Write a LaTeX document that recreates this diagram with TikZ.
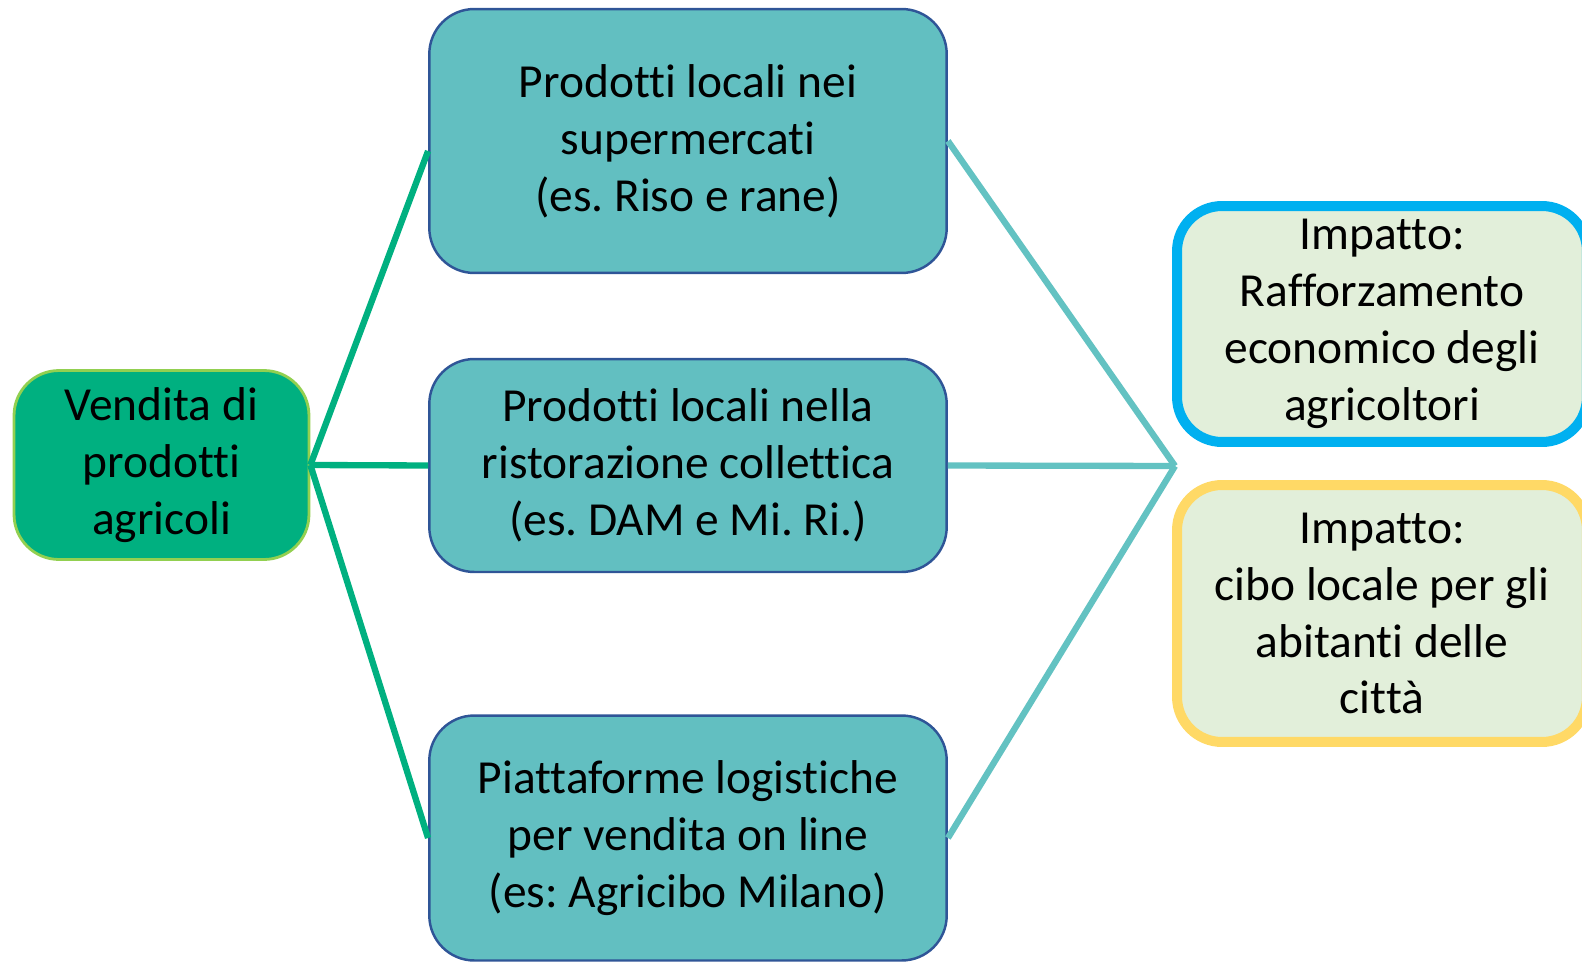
\documentclass[tikz,border=0pt]{standalone}
\usepackage{fontspec}
\setmainfont[Ligatures=NoCommon]{Carlito}
\usepackage{xcolor}
\usetikzlibrary{positioning,calc}
\definecolor{salegreen}{RGB}{0,176,128}
\definecolor{limeedge}{RGB}{146,208,80}
\definecolor{channelteal}{RGB}{98,191,193}
\definecolor{linkteal}{RGB}{99,194,194}
\definecolor{navyedge}{RGB}{47,85,151}
\definecolor{impactblue}{RGB}{0,176,240}
\definecolor{impactyellow}{RGB}{255,217,102}
\definecolor{softlime}{RGB}{226,239,218}
\tikzset{
  basebox/.style={rectangle,rounded corners=0.9cm,inner sep=0pt,align=center,
    font=\fontsize{27pt}{32.4pt}\selectfont},
  sourcebox/.style={basebox,draw=limeedge,line width=1.6pt,fill=salegreen,
    minimum width=5.9cm,minimum height=3.78cm},
  channelbox/.style={basebox,draw=navyedge,line width=1.4pt,fill=channelteal,
    minimum width=10.35cm},
  impactbox/.style={basebox,line width=5.7pt,fill=softlime,minimum width=8.2cm},
  greenlink/.style={draw=salegreen,line width=3.6pt},
  teallink/.style={draw=linkteal,line width=3.6pt}
}
\frenchspacing
\begin{document}
\begin{tikzpicture}[x=0.02cm,y=-0.02cm]
  \clip (0,0) rectangle (1582,963);
  \useasboundingbox (0,0) rectangle (1582,963);
  % source
  \node[sourcebox] (sale) at (161.5,465) {Vendita di\\prodotti\\agricoli};
  % channels
  \node[channelbox,minimum height=5.28cm] (super) at (688,141)
    {Prodotti locali nei\\supermercati\\(es. Riso e rane)};
  \node[channelbox,minimum height=4.26cm] (canteen) at (688,465.5)
    {Prodotti locali nella\\ristorazione collettica\\(es. DAM e Mi. Ri.)};
  \node[channelbox,minimum height=4.9cm] (online) at (688,838)
    {Piattaforme logistiche\\per vendita on line\\(es: Agricibo Milano)};
  % impacts
  \node[impactbox,draw=impactblue,minimum height=4.72cm] (economy) at (1382,324)
    {Impatto:\\Rafforzamento\\economico degli\\agricoltori};
  \node[impactbox,draw=impactyellow,minimum height=5.14cm] (food) at (1382,613.5)
    {Impatto:\\cibo locale per gli\\abitanti delle\\città};
  \coordinate (hub) at (1175,466);
  % links
  \draw[greenlink] (sale.east) -- ($(super.west)+(0,10)$);
  \draw[greenlink] (sale.east) -- (canteen.west);
  \draw[greenlink] (sale.east) -- (online.west);
  \draw[teallink] (super.east) -- (hub);
  \draw[teallink] (canteen.east) -- (hub);
  \draw[teallink] (online.east) -- (hub);
\end{tikzpicture}
\end{document}
